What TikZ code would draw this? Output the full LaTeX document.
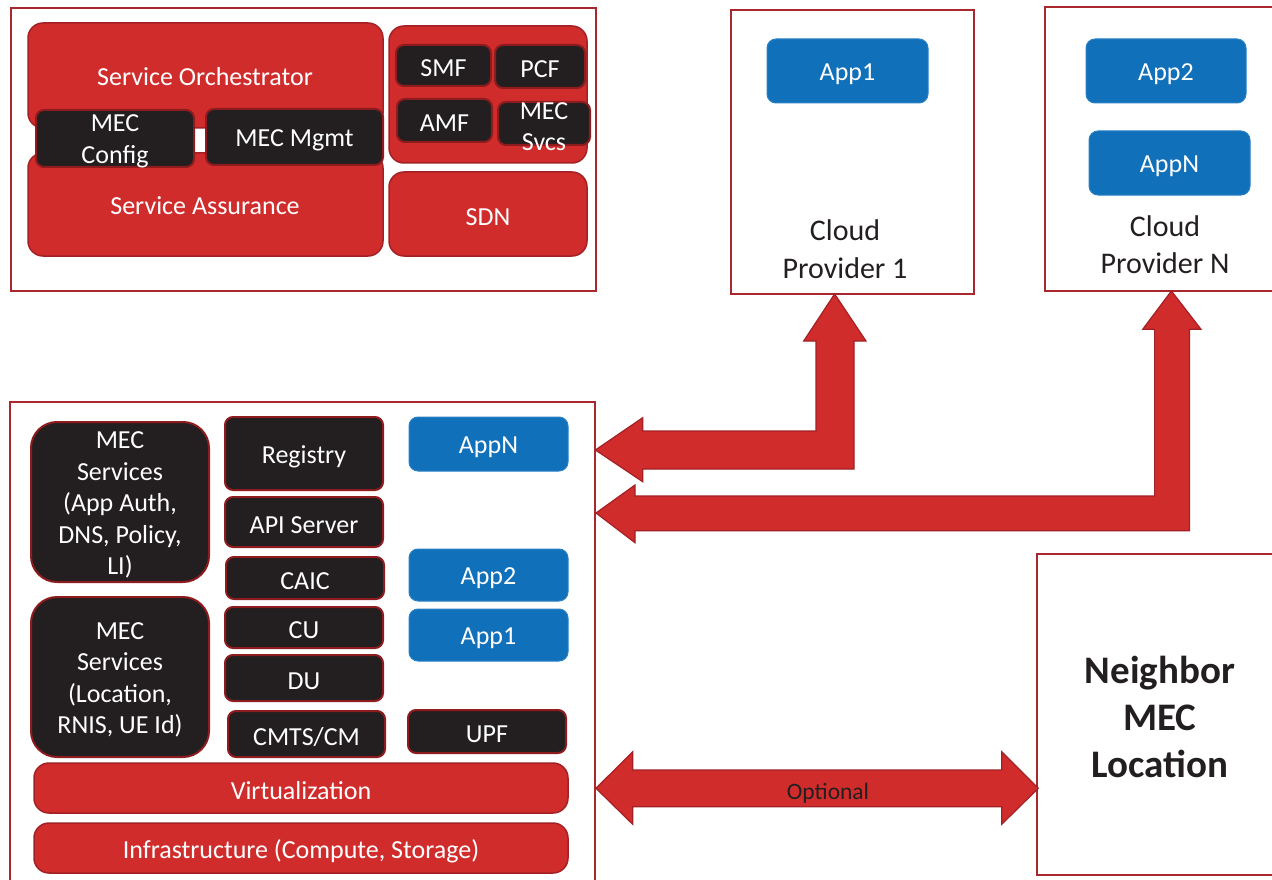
\documentclass[tikz,border=0pt]{standalone}
\usepackage{fontspec}
\setmainfont{Carlito}
\definecolor{mecred}{HTML}{D12C2C}
\definecolor{mecredline}{HTML}{A32025}
\definecolor{framered}{HTML}{A8282D}
\definecolor{mecblack}{HTML}{231F20}
\definecolor{blkline}{HTML}{8E1B1E}
\definecolor{mecblue}{HTML}{1170BA}
\definecolor{blueline}{HTML}{2A82C6}
\tikzset{
  base/.style={inner sep=0pt},
  boxtext/.style={inner sep=0pt, align=center, text=white,
    font=\fontsize{26}{31.5}\selectfont},
  frame/.style={base, draw=framered, line width=2pt, fill=none},
  redbox/.style={base, fill=mecred, draw=mecredline, line width=1.5pt, rounded corners=15pt},
  blkbox/.style={base, fill=mecblack, draw=blkline, line width=2pt, rounded corners=8pt},
  bigblk/.style={blkbox, rounded corners=26pt},
  bluebox/.style={base, fill=mecblue, draw=blueline, line width=1pt, rounded corners=9pt},
  label/.style={inner sep=0pt, align=center, text=mecblack},
  blockarrow/.style={fill=mecred, draw=mecredline, line width=1.2pt, line join=miter}
}
% \place{name}{style}{x1}{y1}{x2}{y2}{text}: box from (x1,y1) to (x2,y2),
% its text set just below the geometric centre
\newcommand\place[7]{%
  \node[#2, minimum width={#5-#3}, minimum height={#6-#4}] (#1)
    at ({(#3+#5)/2},{(#4+#6)/2}) {};
  \node[boxtext] (#1-text) at ([yshift=-3pt]#1.center) {#7};}
\begin{document}
\begin{tikzpicture}[x=1pt,y=-1pt]
\useasboundingbox (0,0) rectangle (1272,880);
\clip (0,0) rectangle (1272,880);

% ---- management / orchestration domain ----
\place{mgmtframe}{frame}{11}{8}{596}{291}{}
\place{orch}{redbox}{28}{23}{383}{128}{}
\node[boxtext] (orchtext) at (205,77) {Service Orchestrator};
\place{assur}{redbox}{28}{153}{383}{256}{}
\node[boxtext] (assurtext) at (205,206) {Service Assurance};
\place{cfg}{blkbox}{36}{110}{194}{167}{MEC\\Config}
\place{mgmt}{blkbox}{206}{109}{383}{165}{MEC Mgmt}
\place{core}{redbox}{389}{26}{587}{163}{}
\place{smf}{blkbox}{396}{45}{491}{86}{SMF}
\place{pcf}{blkbox}{495}{45}{585}{88}{PCF}
\place{amf}{blkbox}{397}{99}{492}{142}{AMF}
\place{svcs}{blkbox}{498}{102}{590}{145}{MEC\\Svcs}
\place{sdn}{redbox}{389}{172}{587}{256}{SDN}

% ---- cloud providers ----
\place{cp1}{frame}{731}{10}{974}{294}{}
\place{cpapp1}{bluebox}{767}{39}{928}{103}{App1}
\node[label, font=\fontsize{30}{38}\selectfont] (cp1text) at (845,249) {Cloud\\Provider 1};
\place{cpn}{frame}{1045}{7}{1285}{291}{}
\place{cpapp2}{bluebox}{1086}{39}{1246}{103}{App2}
\place{cpappn}{bluebox}{1089}{131}{1250}{195}{AppN}
\node[label, font=\fontsize{30}{37}\selectfont] (cpntext) at (1165,245) {Cloud\\Provider N};

% ---- MEC location ----
\place{mecframe}{frame}{10}{402}{595}{890}{}
\place{ms1}{bigblk}{31}{422}{209}{582}{MEC\\Services\\(App Auth,\\DNS, Policy,\\LI)}
\place{ms2}{bigblk}{31}{597}{209}{757}{MEC\\Services\\(Location,\\RNIS, UE Id)}
\place{reg}{blkbox}{225}{417}{383}{490}{Registry}
\place{api}{blkbox}{225}{497}{383}{547}{API Server}
\place{caic}{blkbox}{226}{557}{384}{599}{CAIC}
\place{cu}{blkbox}{225}{607}{383}{648}{CU}
\place{du}{blkbox}{225}{655}{383}{701}{DU}
\place{cmts}{blkbox}{228}{711}{385}{757}{CMTS/CM}
\place{appn}{bluebox}{409}{417}{568}{471}{AppN}
\place{app2}{bluebox}{409}{549}{568}{601}{App2}
\place{app1}{bluebox}{409}{609}{568}{661}{App1}
\place{upf}{blkbox}{408}{710}{566}{753}{UPF}
\place{virt}{redbox}{34}{763}{568}{813}{Virtualization}
\place{infra}{redbox}{34}{823}{568}{873}{Infrastructure (Compute, Storage)}

% ---- neighbour MEC location ----
\place{nbr}{frame}{1037}{554}{1283}{875}{}
\node[label, font=\bfseries\fontsize{39}{47}\selectfont] (nbrtext) at (1160,717) {Neighbor\\MEC\\Location};

% ---- block arrows ----
% MEC location <-> Cloud Provider 1
\draw[blockarrow] (834.6,294) -- (866,341) -- (854,341) -- (854,469)
  -- (642.7,469) -- (642.7,481.7) -- (595.4,450) -- (642.7,417.7)
  -- (642.7,431) -- (816,431) -- (816,341) -- (803.7,341) -- cycle;
% MEC location <-> Cloud Provider N
\draw[blockarrow] (1171.4,291) -- (1201,329.3) -- (1189.5,329.3) -- (1189.5,530.7)
  -- (635,530.7) -- (635,542.7) -- (596,513) -- (635,485)
  -- (635,496) -- (1154.6,496) -- (1154.6,329.3) -- (1142.7,329.3) -- cycle;
% MEC location <-> neighbour
\draw[blockarrow] (596,788.3) -- (632.7,751.7) -- (632.7,770) -- (1001.7,770)
  -- (1001.7,751.7) -- (1038.3,788.3) -- (1001.7,824.3) -- (1001.7,806.7)
  -- (632.7,806.7) -- (632.7,824.3) -- cycle;
\node[label, font=\fontsize{23.5}{28}\selectfont] (opt) at (828,793.5) {Optional};
\end{tikzpicture}
\end{document}
